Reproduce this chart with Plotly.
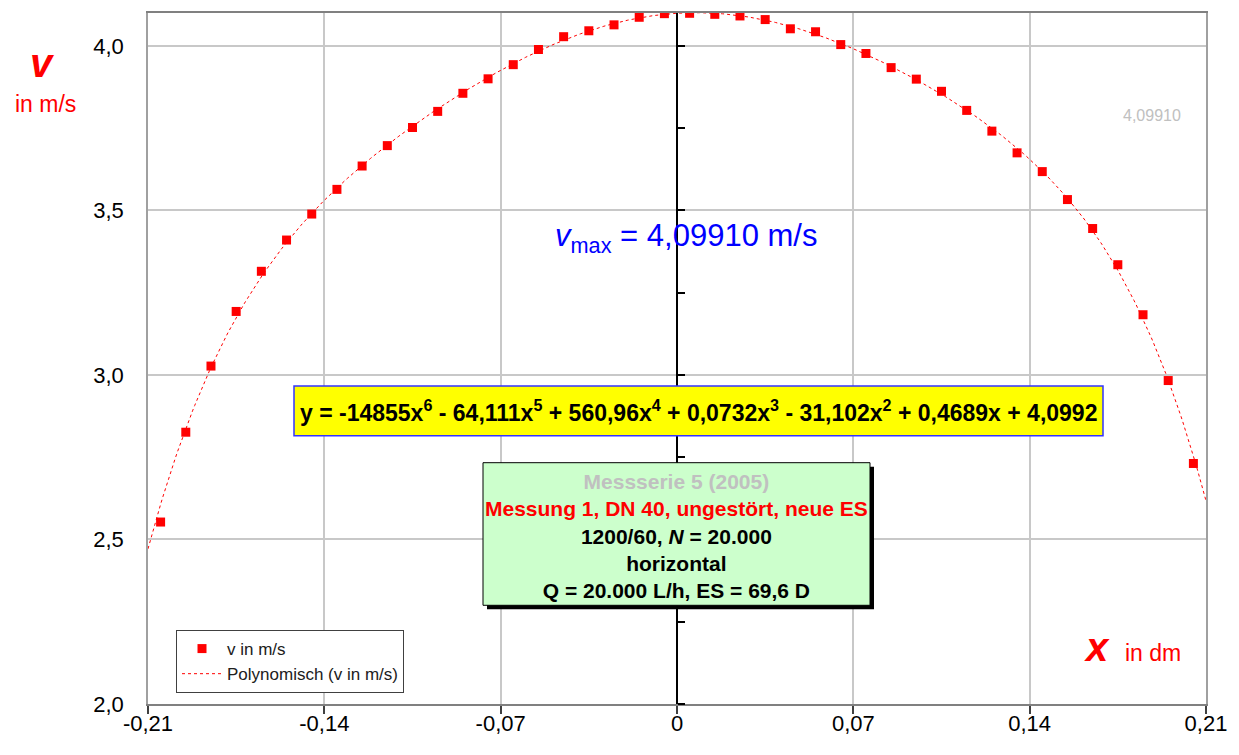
import numpy as np
import plotly.graph_objects as go

# ---------------- data ----------------
x_dm = [-0.205, -0.195, -0.185, -0.175, -0.165, -0.155, -0.145, -0.135, -0.125, -0.115,
        -0.105, -0.095, -0.085, -0.075, -0.065, -0.055, -0.045, -0.035, -0.025, -0.015,
        -0.005, 0.005, 0.015, 0.025, 0.035, 0.045, 0.055, 0.065, 0.075, 0.085,
        0.095, 0.105, 0.115, 0.125, 0.135, 0.145, 0.155, 0.165, 0.175, 0.185,
        0.195, 0.205]
v_ms = [2.553, 2.826, 3.027, 3.193, 3.315, 3.410, 3.489, 3.564, 3.635, 3.697,
        3.752, 3.801, 3.856, 3.900, 3.943, 3.989, 4.028, 4.046, 4.064, 4.087,
        4.098, 4.0991, 4.096, 4.091, 4.080, 4.052, 4.043, 4.004, 3.977, 3.934,
        3.899, 3.862, 3.804, 3.741, 3.675, 3.618, 3.533, 3.445, 3.335, 3.183,
        2.983, 2.731]
# polynomial trend coefficients (x^6 ... x^0) as shown in the chart
poly_coef = [-14855, -64.111, 560.96, 0.0732, -31.102, 0.4689, 4.0992]

x_tickvals = [-0.21, -0.14, -0.07, 0, 0.07, 0.14, 0.21]
x_ticktext = ["-0,21", "-0,14", "-0,07", "0", "0,07", "0,14", "0,21"]
y_tickvals = [2.0, 2.5, 3.0, 3.5, 4.0]
y_ticktext = ["2,0", "2,5", "3,0", "3,5", "4,0"]
v_max_text = "4,09910"

# ---------------- layout geometry ----------------
# page body has an 8px margin, so the figure is shifted by (8, 8)
OFF = 8
W, H = 1239 - OFF, 755 - OFF
L, R, T, B = 148, 1206, 11, 704          # plot area in screen pixels
FONT = "Liberation Sans, Arial, sans-serif"


def px(xp):
    return (xp - L) / (R - L)


def py(yp):
    return (B - yp) / (B - T)


x_fit = np.linspace(-0.21, 0.21, 500)
v_fit = np.polyval(poly_coef, x_fit)

fig = go.Figure()
fig.add_trace(go.Scatter(
    x=x_dm, y=v_ms, mode="markers", name="v in m/s",
    marker=dict(symbol="square", size=9, color="#ff0000", line=dict(width=0)),
))
fig.add_trace(go.Scatter(
    x=x_fit, y=v_fit, mode="lines", name="Polynomisch (v in m/s)",
    line=dict(color="#ff0000", width=1, dash="3px,3px"),
))
# dummy trace so that the centre axis (y2) is drawn
fig.add_trace(go.Scatter(x=[None], y=[None], yaxis="y2", showlegend=False,
                         hoverinfo="skip"))

shapes = [
    # equation box
    dict(type="rect", xref="paper", yref="paper",
         x0=px(294), x1=px(1103), y0=py(435), y1=py(385),
         fillcolor="#ffff00", line=dict(color="#3333ff", width=1.5), layer="above"),
    # info box shadow
    dict(type="rect", xref="paper", yref="paper",
         x0=px(487), x1=px(874), y0=py(609), y1=py(466),
         fillcolor="#000000", line=dict(width=0), layer="above"),
    # info box
    dict(type="rect", xref="paper", yref="paper",
         x0=px(483), x1=px(870), y0=py(605), y1=py(462),
         fillcolor="#ccffcc", line=dict(color="#000000", width=1), layer="above"),
]

eq_text = ("<b>y = -14855x<sup>6</sup> - 64,111x<sup>5</sup> + 560,96x<sup>4</sup> + "
           "0,0732x<sup>3</sup> - 31,102x<sup>2</sup> + 0,4689x + 4,0992</b>")
info_text = ("<b><span style='color:#c0c0c0'>Messserie 5 (2005)</span><br>"
             "<span style='color:#ff0000'>Messung 1, DN 40, ungestört, neue ES</span><br>"
             "1200/60, <i>N</i> = 20.000<br>"
             "horizontal<br>"
             "Q = 20.000 L/h, ES = 69,6 D</b>")

annotations = [
    dict(text="<b><i>v</i></b>", x=px(42), y=py(61), font=dict(size=40, color="#ff0000")),
    dict(text="in m/s", x=px(45), y=py(102), font=dict(size=23, color="#ff0000")),
    dict(text="<b><i>x</i></b>", x=px(1097), y=py(647), font=dict(size=40, color="#ff0000")),
    dict(text="in dm", x=px(1153), y=py(653), font=dict(size=23, color="#ff0000")),
    dict(text=v_max_text, x=px(1152), y=py(114), font=dict(size=16, color="#c0c0c0")),
    dict(text="<i>v</i><sub>max</sub> = " + v_max_text + " m/s", x=px(686), y=py(237),
         font=dict(size=31, color="#0000ff")),
    dict(text=eq_text, x=px(698), y=py(410), font=dict(size=23, color="#000000")),
    dict(text=info_text, x=px(676.5), y=py(536), font=dict(size=21, color="#000000")),
]
for a in annotations:
    a.update(xref="paper", yref="paper", showarrow=False, xanchor="center", yanchor="middle")

fig.update_layout(
    width=W, height=H,
    margin=dict(l=L - OFF, r=W + OFF - R, t=T - OFF, b=H + OFF - B, pad=0),
    paper_bgcolor="#ffffff", plot_bgcolor="#ffffff",
    font=dict(family=FONT, color="#000000"),
    showlegend=True,
    legend=dict(x=px(176), y=py(693), xanchor="left", yanchor="bottom",
                bgcolor="#ffffff", bordercolor="#404040", borderwidth=1,
                font=dict(size=17, color="#202020"), itemwidth=40,
                tracegroupgap=0),
    xaxis=dict(range=[-0.21, 0.21], tickvals=x_tickvals, ticktext=x_ticktext,
               showgrid=True, gridcolor="#c8c8c8", gridwidth=1.5,
               showline=True, linecolor="#808080", linewidth=2, mirror=True,
               ticks="outside", ticklen=8, tickcolor="#404040", tickwidth=1.5,
               ticklabelstandoff=-9,
               tickfont=dict(size=22, color="#000000"), zeroline=False),
    yaxis=dict(range=[2.0, 4.1], tickvals=y_tickvals, ticktext=y_ticktext,
               showgrid=True, gridcolor="#c8c8c8", gridwidth=1.5,
               showline=True, linecolor="#a0a0a0", linewidth=1.5, mirror=True,
               ticks="", ticklabelstandoff=18,
               tickfont=dict(size=22, color="#000000"), zeroline=False),
    yaxis2=dict(range=[2.0, 4.1], overlaying="y", anchor="free", position=0.5,
                side="right", showline=True, linecolor="#000000", linewidth=2,
                ticks="outside", tick0=2.0, dtick=0.25, ticklen=7,
                tickcolor="#000000", tickwidth=1.5, showticklabels=False,
                showgrid=False, zeroline=False),
    shapes=shapes,
    annotations=annotations,
)

fig.write_html("out.html")
